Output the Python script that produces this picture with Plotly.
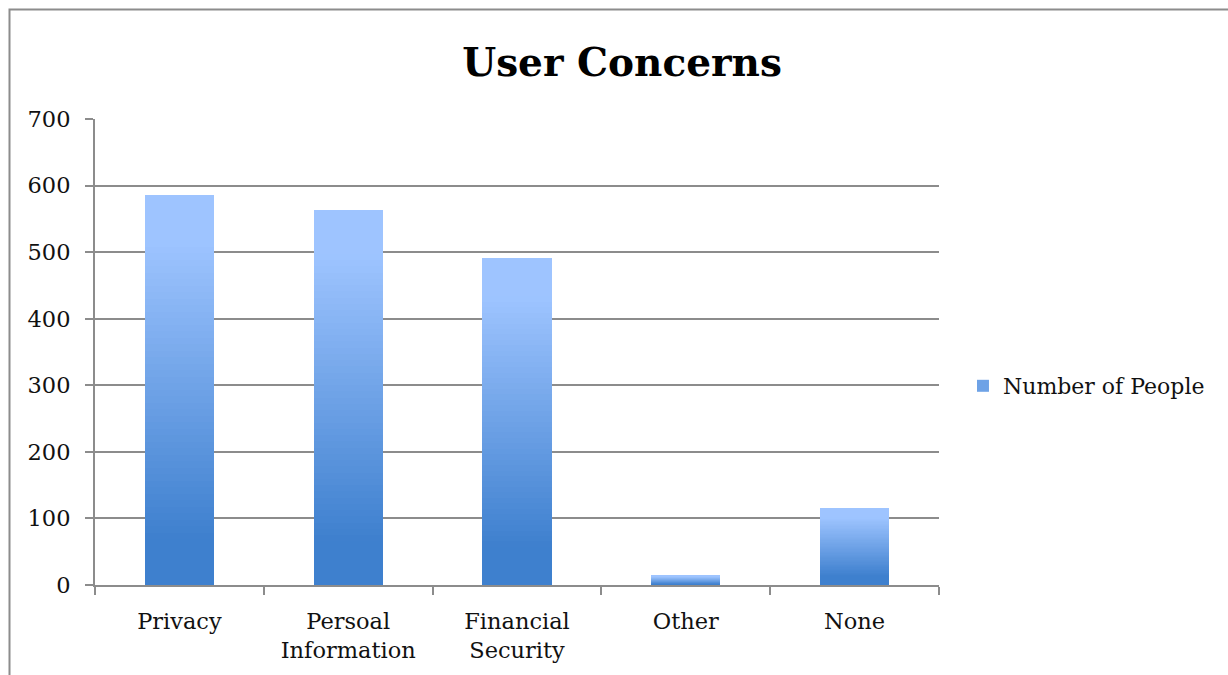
import plotly.graph_objects as go

categories = ["Privacy", "Persoal<br>Information", "Financial<br>Security", "Other", "None"]
values = [586, 563, 491, 15, 116]
series_name = "Number of People"
y_ticks = [0, 100, 200, 300, 400, 500, 600, 700]

FONT = "DejaVu Serif"
N = 60
top_rgb = (158, 196, 255)
bot_rgb = (62, 128, 206)

def mix(t):
    # t: 0 at top, 1 at bottom
    s = min(max((t - 0.12) / (0.88 - 0.12), 0.0), 1.0)
    return "rgb(%d,%d,%d)" % tuple(round(a + (b - a) * s) for a, b in zip(top_rgb, bot_rgb))

fig = go.Figure()
for i in range(N):
    t = 1 - (i + 0.5) / N  # stacking from bottom
    fig.add_trace(go.Bar(
        x=categories, y=[v / N for v in values],
        marker=dict(color=mix(t), line=dict(width=0)),
        showlegend=False, hoverinfo="skip",
    ))
fig.add_trace(go.Bar(
    x=categories, y=[0] * len(values), name=series_name,
    marker=dict(color=mix(0.5), line=dict(width=0)), showlegend=True,
))

fig.update_layout(
    barmode="stack", bargap=0.59,
    width=1228, height=675,
    margin=dict(l=95, r=289, t=119, b=90),
    paper_bgcolor="white", plot_bgcolor="white",
    font=dict(family=FONT, size=22.5, color="#111111"),
    title=dict(text="<b>User Concerns</b>", x=622 / 1228, xref="container", xanchor="center",
               y=1 - 62 / 675, yref="container", yanchor="middle",
               font=dict(family=FONT, size=39, color="#000000")),
    legend=dict(x=1.0284, xanchor="left", y=(585 - 386) / 466, yanchor="middle",
                font=dict(family=FONT, size=22), itemwidth=30, traceorder="normal"),
    shapes=[dict(type="rect", xref="paper", yref="paper",
                 x0=(9.5 - 95) / 844, x1=1.5, y0=-0.5, y1=(585 - 9.5) / 466,
                 line=dict(color="#8c8c8c", width=2), fillcolor="rgba(0,0,0,0)", layer="below")],
)
fig.update_xaxes(showline=True, linecolor="#8c8c8c", linewidth=2,
                 ticks="outside", tickson="boundaries", ticklen=8, tickcolor="#8c8c8c", tickwidth=2,
                 ticklabelstandoff=15, showgrid=False)
fig.update_yaxes(range=[0, 700], tickvals=y_ticks, showline=True, linecolor="#8c8c8c", linewidth=2,
                 ticks="outside", ticklen=8, tickcolor="#8c8c8c", tickwidth=2,
                 showgrid=True, gridcolor="#8c8c8c", gridwidth=1.5, zeroline=False,
                 ticklabelstandoff=10)

fig.write_html("out.html")
